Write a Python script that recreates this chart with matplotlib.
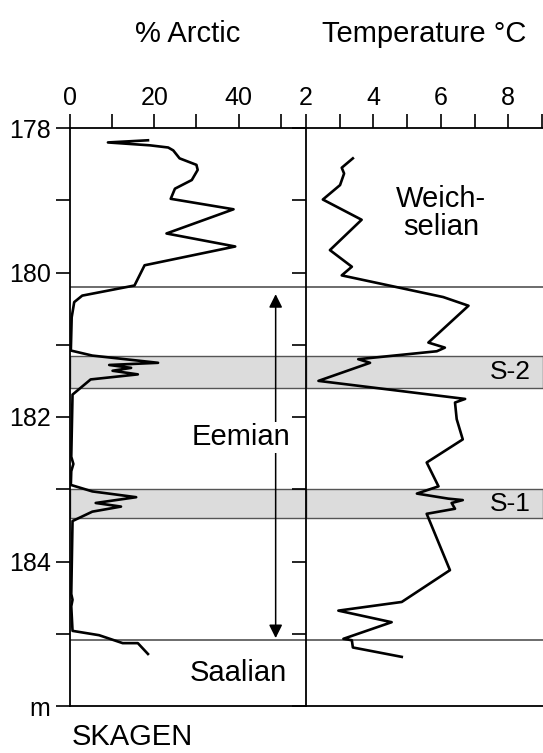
import matplotlib.pyplot as plt
from matplotlib.ticker import MultipleLocator, FixedLocator

plt.rcParams['font.family'] = ['Liberation Sans', 'DejaVu Sans']

# Skagen core: % Arctic foraminifera and temperature against depth (m)
arctic_depth = [178.17, 178.20, 178.24, 178.27, 178.31, 178.42, 178.51, 178.58, 178.72,
                178.84, 178.98, 179.125, 179.46, 179.64, 179.90, 180.18, 180.32, 180.41,
                180.62, 181.08, 181.15, 181.25, 181.28, 181.32, 181.36, 181.41, 181.48,
                181.69, 182.55, 182.65, 182.75, 182.94, 183.03, 183.11, 183.19, 183.24,
                183.31, 183.44, 184.45, 184.53, 184.62, 184.96, 185.02, 185.13, 185.13,
                185.28]
arctic_pct = [18.5, 9.0, 19.0, 23.3, 24.5, 26.0, 30.0, 30.3, 28.9,
              24.9, 23.9, 38.8, 22.9, 39.2, 17.7, 15.3, 2.9, 1.0,
              0.4, 0.2, 5.3, 20.9, 9.3, 14.5, 10.1, 16.1, 4.9,
              0.6, 0.3, 0.8, 0.3, 0.2, 5.3, 15.7, 6.1, 12.1,
              5.3, 0.6, 0.3, 0.6, 0.3, 0.6, 6.9, 12.5, 16.1,
              18.5]

temp_depth = [178.42, 178.55, 178.63, 178.79, 178.99, 179.27, 179.69, 179.92, 180.04,
              180.34, 180.46, 180.97, 181.04, 181.09, 181.20, 181.25, 181.50, 181.75,
              181.80, 182.03, 182.31, 182.63, 182.96, 183.06, 183.13, 183.15, 183.19,
              183.27, 183.34, 184.12, 184.56, 184.68, 184.84, 185.07, 185.09, 185.19,
              185.32]
temp_c = [3.39, 3.06, 3.13, 3.01, 2.50, 3.65, 2.71, 3.36, 3.06,
          6.07, 6.82, 5.63, 6.12, 5.88, 3.55, 3.90, 2.37, 6.72,
          6.42, 6.47, 6.65, 5.58, 5.93, 5.29, 6.22, 6.65, 6.32,
          6.42, 5.58, 6.27, 4.84, 2.96, 4.54, 3.11, 3.36, 3.39,
          4.84]

bands = [(181.15, 181.60, 'S-2'), (183.00, 183.40, 'S-1')]
boundaries = [180.2, 185.08]
depth_ticks = [178, 180, 182, 184, 186]
depth_labels = ['178', '180', '182', '184', 'm']

fig = plt.figure(figsize=(5.43, 7.53), dpi=100)
ax1 = fig.add_axes([70 / 543, 47 / 753, 236 / 543, 578 / 753])
ax2 = fig.add_axes([306 / 543, 47 / 753, 237 / 543, 578 / 753], sharey=ax1)

ax1.set_xlim(0, 56)
ax2.set_xlim(2, 9.03)
ax1.set_ylim(186, 178)

for ax in (ax1, ax2):
    for lo, hi, name in bands:
        ax.axhspan(lo, hi, facecolor='#dcdcdc', edgecolor='#555555', lw=1.0, zorder=1)
    for b in boundaries:
        ax.axhline(b, color='#444444', lw=1.1, zorder=2)
    for sp in ax.spines.values():
        sp.set_linewidth(1.3)
    ax.xaxis.tick_top()
    ax.tick_params(axis='x', which='both', direction='out', length=10, width=1.2,
                   labelsize=18, pad=3)
    ax.tick_params(axis='y', which='both', direction='out', length=10, width=1.2,
                   labelsize=18, pad=4)

ax1.plot(arctic_pct, arctic_depth, color='black', lw=1.9, zorder=3)
ax2.plot(temp_c, temp_depth, color='black', lw=1.9, zorder=3)

ax1.xaxis.set_major_locator(MultipleLocator(20))
ax1.xaxis.set_minor_locator(FixedLocator([10, 30, 50]))
ax2.xaxis.set_major_locator(FixedLocator([2, 4, 6, 8]))
ax2.xaxis.set_minor_locator(FixedLocator([3, 5, 7, 9]))
ax2.set_xticklabels(['2', '4', '6', '8'])

ax1.yaxis.set_major_locator(FixedLocator(depth_ticks))
ax1.yaxis.set_minor_locator(FixedLocator([179, 181, 183, 185]))
ax1.set_yticklabels(depth_labels)
ax1.spines['right'].set_visible(False)
ax2.spines['right'].set_visible(False)
ax2.tick_params(axis='y', labelleft=False)

ax1.set_title('% Arctic', fontsize=21, pad=62)
ax2.set_title('Temperature °C', fontsize=21, pad=62)

# zone labels
ax1.annotate('', xy=(48.8, 180.30), xytext=(48.8, 185.06),
             arrowprops=dict(arrowstyle='<|-|>', color='black', lw=1.1,
                             mutation_scale=20, shrinkA=0, shrinkB=0), zorder=4)
ax1.text(40.5, 182.28, 'Eemian', fontsize=21, ha='center', va='center', zorder=5,
         bbox=dict(facecolor='white', edgecolor='none', pad=1))
ax1.text(40.0, 185.55, 'Saalian', fontsize=21, ha='center', va='center')
ax2.text(6.0, 179.17, 'Weich-\nselian', fontsize=21, ha='center', va='center',
         linespacing=1.0)
for lo, hi, name in bands:
    ax2.text(8.05, (lo + hi) / 2, name, fontsize=19, ha='center', va='center')

fig.text(72 / 543, 1 - 737 / 753, 'SKAGEN', fontsize=21, ha='left', va='center')

fig.savefig('out.png', dpi=100)
